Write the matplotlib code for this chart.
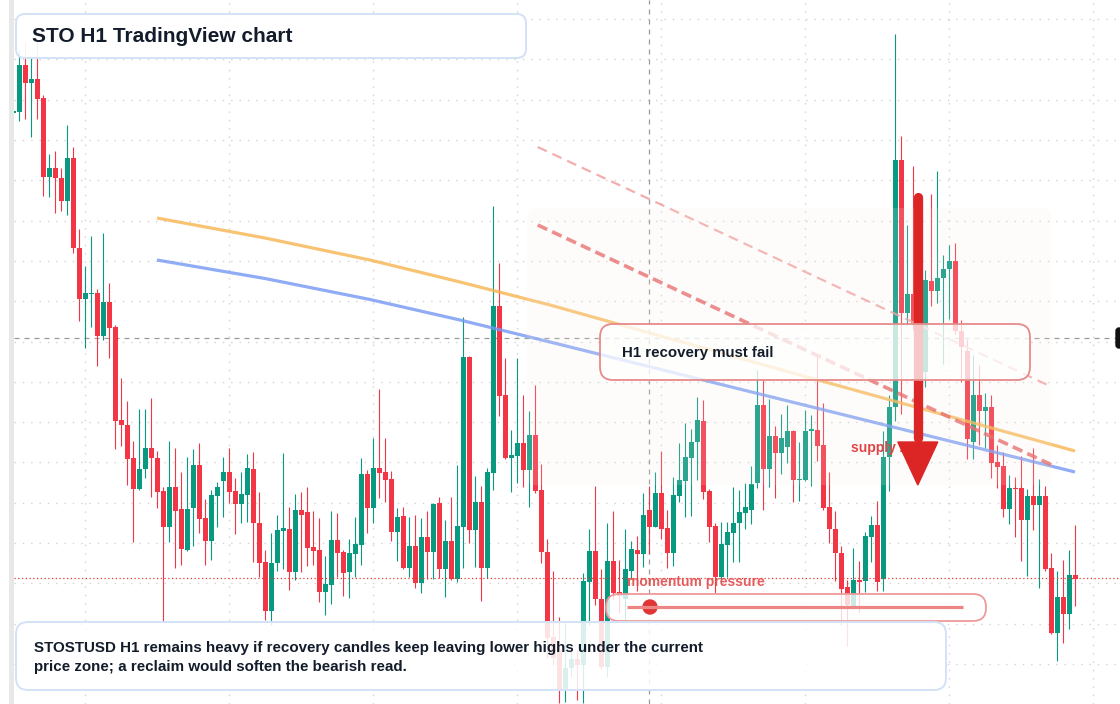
import matplotlib
matplotlib.use('Agg')
import matplotlib.pyplot as plt  # noqa: E402
import numpy as np  # noqa: E402
from matplotlib.patches import FancyBboxPatch, Polygon, Circle, Rectangle  # noqa: E402

# ------------------------------------------------------------------
# STO / USDT H1 candles (oldest -> newest)
# ------------------------------------------------------------------
opens = [
    0.887, 0.888, 0.935, 0.917, 0.921, 0.902, 0.823, 0.832, 0.822, 0.799,
    0.842, 0.752, 0.701, 0.706, 0.707, 0.664, 0.698, 0.673, 0.580, 0.575,
    0.542, 0.511, 0.531, 0.552, 0.542, 0.509, 0.473, 0.513, 0.491, 0.450,
    0.492, 0.535, 0.482, 0.459, 0.504, 0.519, 0.528, 0.509, 0.496, 0.505,
    0.531, 0.477, 0.438, 0.389, 0.437, 0.469, 0.471, 0.428, 0.490, 0.488,
    0.453, 0.450, 0.408, 0.415, 0.460, 0.448, 0.428, 0.446, 0.455, 0.526,
    0.492, 0.532, 0.528, 0.521, 0.468, 0.484, 0.432, 0.454, 0.417, 0.463,
    0.448, 0.497, 0.431, 0.459, 0.421, 0.473, 0.643, 0.470, 0.498, 0.432,
    0.527, 0.694, 0.605, 0.542, 0.544, 0.557, 0.530, 0.565, 0.510, 0.448,
    0.363, 0.350, 0.311, 0.332, 0.341, 0.335, 0.418, 0.449, 0.401, 0.333,
    0.439, 0.408, 0.401, 0.429, 0.450, 0.446, 0.490, 0.473, 0.507, 0.472,
    0.447, 0.504, 0.519, 0.542, 0.558, 0.579, 0.509, 0.474, 0.423, 0.455,
    0.467, 0.477, 0.487, 0.490, 0.517, 0.595, 0.531, 0.564, 0.547, 0.553,
    0.569, 0.520, 0.520, 0.569, 0.570, 0.555, 0.493, 0.471, 0.447, 0.413,
    0.394, 0.420, 0.419, 0.463, 0.475, 0.421, 0.543, 0.593, 0.840, 0.687,
    0.706, 0.670, 0.628, 0.719, 0.709, 0.722, 0.731, 0.739, 0.669, 0.649,
    0.558, 0.605, 0.589, 0.593, 0.538, 0.534, 0.491, 0.512, 0.512, 0.480,
    0.504, 0.495, 0.504, 0.432, 0.367, 0.403, 0.386, 0.425,
]
highs = [
    0.890, 0.950, 0.958, 0.944, 0.960, 0.905, 0.846, 0.849, 0.832, 0.875,
    0.853, 0.771, 0.734, 0.764, 0.711, 0.767, 0.717, 0.675, 0.622, 0.599,
    0.559, 0.591, 0.591, 0.602, 0.549, 0.513, 0.559, 0.552, 0.528, 0.543,
    0.551, 0.557, 0.501, 0.510, 0.518, 0.543, 0.552, 0.522, 0.528, 0.546,
    0.548, 0.508, 0.450, 0.467, 0.485, 0.547, 0.493, 0.506, 0.508, 0.513,
    0.489, 0.482, 0.444, 0.489, 0.487, 0.450, 0.461, 0.483, 0.542, 0.530,
    0.562, 0.611, 0.562, 0.529, 0.492, 0.493, 0.483, 0.485, 0.482, 0.489,
    0.497, 0.503, 0.480, 0.503, 0.535, 0.683, 0.644, 0.524, 0.514, 0.532,
    0.794, 0.737, 0.642, 0.570, 0.642, 0.605, 0.589, 0.615, 0.536, 0.461,
    0.429, 0.383, 0.377, 0.350, 0.350, 0.427, 0.471, 0.514, 0.431, 0.477,
    0.489, 0.440, 0.471, 0.459, 0.464, 0.507, 0.514, 0.528, 0.549, 0.490,
    0.523, 0.557, 0.577, 0.571, 0.603, 0.600, 0.511, 0.477, 0.478, 0.478,
    0.513, 0.510, 0.517, 0.534, 0.630, 0.622, 0.601, 0.574, 0.586, 0.595,
    0.570, 0.558, 0.590, 0.585, 0.643, 0.597, 0.528, 0.489, 0.454, 0.420,
    0.452, 0.439, 0.468, 0.484, 0.499, 0.569, 0.605, 0.966, 0.864, 0.775,
    0.834, 0.760, 0.730, 0.806, 0.829, 0.745, 0.755, 0.757, 0.680, 0.661,
    0.645, 0.635, 0.607, 0.605, 0.555, 0.548, 0.525, 0.523, 0.544, 0.511,
    0.552, 0.521, 0.514, 0.447, 0.429, 0.440, 0.450, 0.475,
]
lows = [
    0.886, 0.879, 0.881, 0.863, 0.881, 0.804, 0.803, 0.787, 0.789, 0.785,
    0.747, 0.679, 0.652, 0.673, 0.634, 0.660, 0.642, 0.551, 0.554, 0.515,
    0.458, 0.510, 0.522, 0.503, 0.492, 0.378, 0.458, 0.432, 0.435, 0.449,
    0.454, 0.467, 0.435, 0.440, 0.473, 0.483, 0.497, 0.466, 0.477, 0.478,
    0.438, 0.423, 0.380, 0.375, 0.429, 0.431, 0.410, 0.420, 0.428, 0.434,
    0.435, 0.398, 0.385, 0.396, 0.423, 0.404, 0.402, 0.423, 0.435, 0.467,
    0.477, 0.502, 0.498, 0.459, 0.439, 0.431, 0.423, 0.412, 0.407, 0.421,
    0.421, 0.422, 0.403, 0.420, 0.418, 0.432, 0.457, 0.433, 0.399, 0.422,
    0.510, 0.584, 0.541, 0.508, 0.517, 0.513, 0.493, 0.507, 0.437, 0.342,
    0.335, 0.297, 0.298, 0.323, 0.300, 0.297, 0.375, 0.395, 0.331, 0.323,
    0.401, 0.387, 0.380, 0.421, 0.409, 0.433, 0.446, 0.473, 0.461, 0.432,
    0.434, 0.498, 0.483, 0.484, 0.520, 0.501, 0.458, 0.407, 0.420, 0.423,
    0.438, 0.438, 0.471, 0.476, 0.512, 0.490, 0.513, 0.502, 0.526, 0.537,
    0.498, 0.499, 0.519, 0.514, 0.539, 0.490, 0.457, 0.419, 0.375, 0.354,
    0.391, 0.388, 0.408, 0.438, 0.409, 0.409, 0.509, 0.579, 0.586, 0.675,
    0.670, 0.655, 0.613, 0.694, 0.697, 0.636, 0.681, 0.666, 0.618, 0.541,
    0.541, 0.555, 0.552, 0.522, 0.512, 0.483, 0.476, 0.463, 0.439, 0.424,
    0.470, 0.412, 0.429, 0.366, 0.339, 0.357, 0.371, 0.394,
]
closes = [
    0.889, 0.935, 0.917, 0.921, 0.901, 0.823, 0.832, 0.822, 0.799, 0.842,
    0.752, 0.701, 0.707, 0.707, 0.664, 0.698, 0.672, 0.579, 0.575, 0.541,
    0.511, 0.531, 0.552, 0.542, 0.508, 0.473, 0.513, 0.489, 0.451, 0.491,
    0.535, 0.481, 0.459, 0.505, 0.513, 0.528, 0.508, 0.496, 0.506, 0.532,
    0.477, 0.437, 0.389, 0.437, 0.470, 0.472, 0.428, 0.490, 0.485, 0.452,
    0.449, 0.408, 0.416, 0.460, 0.447, 0.427, 0.447, 0.456, 0.526, 0.492,
    0.532, 0.527, 0.520, 0.468, 0.483, 0.432, 0.454, 0.417, 0.463, 0.448,
    0.496, 0.431, 0.459, 0.421, 0.474, 0.643, 0.470, 0.498, 0.432, 0.528,
    0.694, 0.604, 0.542, 0.545, 0.557, 0.530, 0.565, 0.509, 0.448, 0.362,
    0.342, 0.311, 0.332, 0.341, 0.335, 0.419, 0.449, 0.401, 0.333, 0.439,
    0.407, 0.404, 0.431, 0.451, 0.446, 0.485, 0.473, 0.507, 0.471, 0.447,
    0.505, 0.520, 0.543, 0.558, 0.580, 0.508, 0.473, 0.423, 0.456, 0.468,
    0.477, 0.488, 0.493, 0.516, 0.595, 0.531, 0.564, 0.547, 0.562, 0.569,
    0.520, 0.521, 0.569, 0.571, 0.554, 0.492, 0.471, 0.447, 0.411, 0.395,
    0.420, 0.418, 0.464, 0.475, 0.418, 0.543, 0.593, 0.840, 0.687, 0.706,
    0.677, 0.710, 0.720, 0.709, 0.722, 0.731, 0.739, 0.669, 0.653, 0.561,
    0.605, 0.589, 0.593, 0.537, 0.533, 0.491, 0.512, 0.511, 0.480, 0.504,
    0.495, 0.504, 0.431, 0.367, 0.403, 0.386, 0.425, 0.421,
]

# moving averages (candle index, price) sampled along the drawn curves
ema_fast_idx = [23.95, 41.95, 59.45, 74.45, 89.45, 131.1, 176.95]
ema_fast_val = [0.782, 0.762, 0.740, 0.718, 0.695, 0.625, 0.549]
ema_slow_idx = [23.95, 41.95, 59.45, 74.45, 89.45, 131.1, 176.95]
ema_slow_val = [0.740, 0.7215, 0.7005, 0.680, 0.658, 0.596, 0.528]

# lower-high trendlines (start/end index, price)
trend_idx = [87.4, 173.1]
trend_main = [0.775, 0.535]
trend_upper = [0.853, 0.613]

# supply zone / levels
zone_idx = (85.6, 173.1)
zone_price = (0.515, 0.792)
arrow_idx = 150.75
arrow_top, arrow_base, arrow_tip = 0.8025, 0.558, 0.515
cross_idx, cross_price = 106, 0.662
last_price = 0.422

GREEN = '#089981'
RED = '#f23645'
INK = '#131c2b'
plt.rcParams['font.family'] = ['Liberation Sans', 'DejaVu Sans']

fig = plt.figure(figsize=(11.2, 7.04), dpi=100)
ax = fig.add_axes([14 / 1120, 0, 1106 / 1120, 1])
ax.set_xlim(0.1167, 184.45)
ax.set_ylim(0.296, 1.0)
for s in ax.spines.values():
    s.set_visible(False)
ax.set_xticks(np.arange(11.95, 184, 24))
ax.set_yticks(np.arange(0.336, 0.99, 0.0403))
ax.tick_params(length=0, labelbottom=False, labelleft=False)
ax.grid(True, linestyle=(0, (1, 5)), color='#d2d2d2', linewidth=1)
ax.set_axisbelow(True)

# crosshair + last price
ax.axvline(cross_idx, color='#9a9a9a', lw=0.9, ls=(0, (4, 4)), zorder=1.5)
ax.axhline(cross_price, color='#9a9a9a', lw=0.9, ls=(0, (4, 4)), zorder=1.5)

# candles
o, h, l, c = (np.array(a) for a in (opens, highs, lows, closes))
idx = np.arange(len(o))
cols = np.where(c >= o, GREEN, RED)
ax.vlines(idx, l, h, colors=cols, linewidth=0.8, zorder=2)
ax.bar(idx, np.maximum(np.abs(c - o), 0.0012), bottom=np.minimum(o, c),
       width=0.78, color=cols, linewidth=0, zorder=3)

ax.axhline(last_price, color='#e53935', lw=0.9, ls=(0, (1, 2)), zorder=4)

# averages and trendlines
ax.plot(ema_fast_idx, ema_fast_val, color='#f7b44f', lw=2.3, alpha=0.8, zorder=5,
        solid_capstyle='butt')
ax.plot(ema_slow_idx, ema_slow_val, color='#7497f2', lw=2.3, alpha=0.8, zorder=5,
        solid_capstyle='butt')
ax.plot(trend_idx, trend_upper, color='#ef9a9a', lw=1.6, alpha=0.8, zorder=5,
        dashes=(4.5, 2.8))
ax.plot(trend_idx, trend_main, color='#e45c5c', lw=2.6, alpha=0.8, zorder=5,
        dashes=(2.9, 1.5))

# supply zone wash (sits over the candles)
zone = FancyBboxPatch((zone_idx[0], zone_price[0]), zone_idx[1] - zone_idx[0],
                      zone_price[1] - zone_price[0],
                      boxstyle='round,pad=0,rounding_size=1.5', mutation_aspect=0.006,
                      facecolor='#fbf1ea', edgecolor='none', alpha=0.15, zorder=6)
ax.add_patch(zone)
ax.text(139.6, 0.552, 'supply zone', color='#e04444', fontsize=10, fontweight='bold',
        ha='left', va='center', zorder=7)

# bearish arrow
ax.plot([arrow_idx, arrow_idx], [arrow_top, arrow_base + 0.004], color='#dc2626',
        lw=6.7, solid_capstyle='round', zorder=8)
ax.add_patch(Polygon([(arrow_idx - 3.33, arrow_base), (arrow_idx + 3.33, arrow_base),
                      (arrow_idx, arrow_tip)], closed=True, color='#dc2626', zorder=8))

# ------------------------------------------------------------------
# annotation layer in pixel space
# ------------------------------------------------------------------
ov = fig.add_axes([0, 0, 1, 1], zorder=5)
ov.set_xlim(0, 1120)
ov.set_ylim(704, 0)
ov.axis('off')
ov.patch.set_alpha(0)

ov.add_patch(Rectangle((9, 0), 5, 704, color='#e8e8e8', lw=0))
ov.add_patch(FancyBboxPatch((1116, 328), 14, 20, boxstyle='round,pad=0,rounding_size=3',
                            color='#111111'))

ov.add_patch(FancyBboxPatch((600, 324), 430, 56, boxstyle='round,pad=0,rounding_size=13',
                            facecolor=(1, 1, 1, 0.75), edgecolor='#e68a8a', lw=1.3))
ov.text(622, 353, 'H1 recovery must fail', fontsize=10.8, fontweight='bold', color=INK,
        ha='left', va='center')

ov.text(627, 582, 'momentum pressure', fontsize=10, fontweight='bold', color='#e24a4a',
        ha='left', va='center', alpha=0.9)
ov.add_patch(FancyBboxPatch((606, 594), 380, 27, boxstyle='round,pad=0,rounding_size=13',
                            facecolor=(1, 1, 1, 0.8), edgecolor='#ee9a9a', lw=1.3))
ov.plot([627, 963], [607, 607], color='#ee8585', lw=2.3, solid_capstyle='butt')
ov.add_patch(Circle((650, 607), 7, color='#e03535'))

ov.add_patch(FancyBboxPatch((16, 622), 930, 68, boxstyle='round,pad=0,rounding_size=12',
                            facecolor=(1, 1, 1, 0.86), edgecolor='#d3e2f6', lw=1.4))
ov.text(34, 657.5, 'STOSTUSD H1 remains heavy if recovery candles keep leaving lower highs '
        'under the current\nprice zone; a reclaim would soften the bearish read.',
        fontsize=10.87, fontweight='bold', color=INK, ha='left', va='center',
        linespacing=1.4)

ov.add_patch(FancyBboxPatch((16, 14), 510, 44, boxstyle='round,pad=0,rounding_size=9',
                            facecolor=(1, 1, 1, 0.92), edgecolor='#d3e2f6', lw=1.4))
ov.text(32, 36, 'STO H1 TradingView chart', fontsize=15, fontweight='bold', color=INK,
        ha='left', va='center')

fig.savefig('out.png', dpi=100)
plt.close(fig)
